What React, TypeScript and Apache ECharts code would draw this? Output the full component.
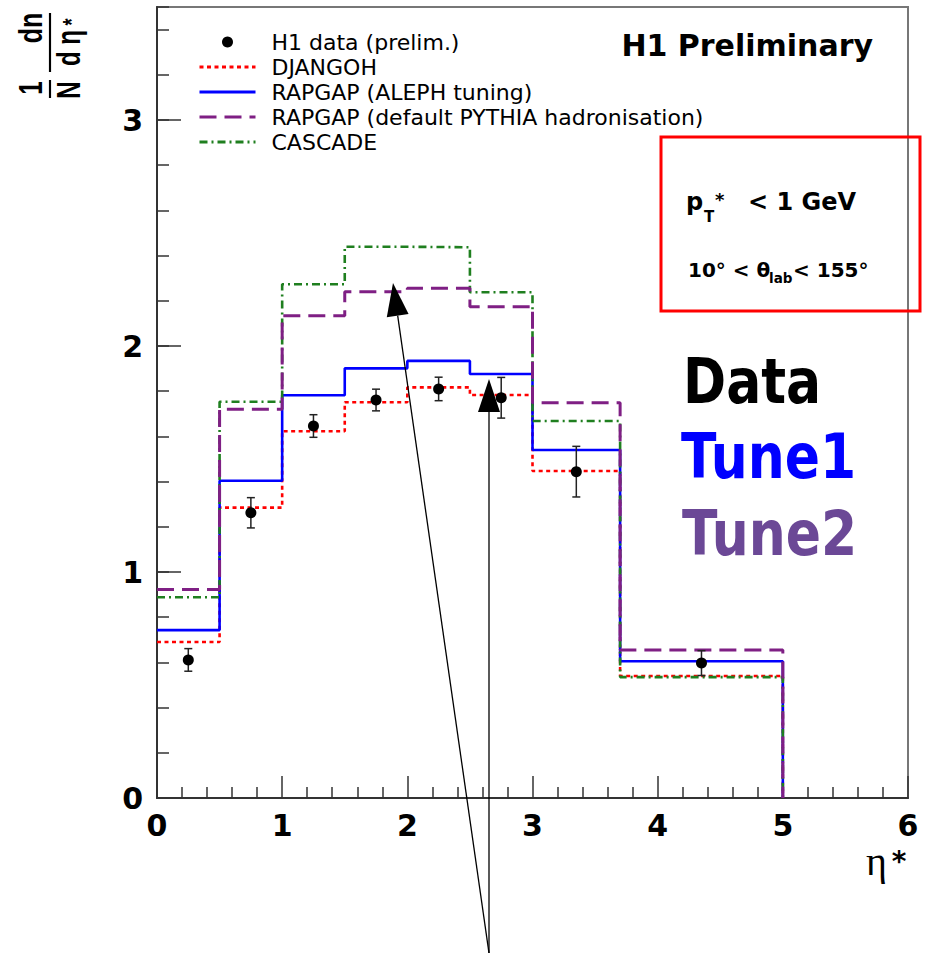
import React, { useEffect, useRef } from 'react';
import * as echarts from 'echarts';

// ---- data ----
const binEdges = [0, 0.5, 1, 1.5, 2, 2.5, 3, 3.7, 5];
const djangoh = [0.69, 1.285, 1.623, 1.751, 1.817, 1.783, 1.447, 0.54];
const rapgapAleph = [0.743, 1.404, 1.782, 1.901, 1.934, 1.876, 1.54, 0.605];
const rapgapDefault = [0.923, 1.72, 2.134, 2.24, 2.255, 2.174, 1.749, 0.655];
const cascade = [0.888, 1.753, 2.273, 2.439, 2.437, 2.238, 1.668, 0.535];
const dataX = [0.25, 0.75, 1.25, 1.75, 2.25, 2.75, 3.35, 4.35];
const dataY = [0.611, 1.262, 1.646, 1.761, 1.81, 1.771, 1.444, 0.597];
const dataErr = [0.05, 0.067, 0.05, 0.048, 0.052, 0.09, 0.112, 0.055];
const xTickLabels = [0, 1, 2, 3, 4, 5, 6];
const yTickLabels = [0, 1, 2, 3];

const seriesNames = [
  'H1 data (prelim.)',
  'DJANGOH',
  'RAPGAP (ALEPH tuning)',
  'RAPGAP (default PYTHIA hadronisation)',
  'CASCADE',
];

function stepPoints(vals: number[]) {
  const pts: number[][] = [];
  vals.forEach((v, i) => {
    pts.push([binEdges[i], v]);
    pts.push([binEdges[i + 1], v]);
  });
  pts.push([binEdges[binEdges.length - 1], 0]);
  return pts;
}

const SANS = '"DejaVu Sans", sans-serif';
const ARIAL = '"Liberation Sans", Arial, sans-serif';

function txt(
  text: string,
  x: number,
  y: number,
  size: number,
  opts: any = {}
) {
  const align = opts.align || 'left';
  return {
    type: 'text',
    x,
    y,
    z: 100,
    scaleX: opts.scaleX ?? 1,
    scaleY: opts.scaleY ?? 1,
    style: {
      text,
      fontSize: size,
      fontWeight: opts.weight || 'bold',
      fontFamily: opts.family || SANS,
      fill: opts.color || '#000',
      align,
      textAlign: align,
      verticalAlign: 'middle',
      textVerticalAlign: 'middle',
    },
  };
}

function arrow(x0: number, y0: number, tx: number, ty: number) {
  const dx = tx - x0;
  const dy = ty - y0;
  const len = Math.sqrt(dx * dx + dy * dy);
  const ux = dx / len;
  const uy = dy / len;
  const headLen = 33;
  const halfW = 11;
  const bx = tx - ux * headLen;
  const by = ty - uy * headLen;
  const px = -uy;
  const py = ux;
  return [
    {
      type: 'line',
      z: 100,
      shape: { x1: x0, y1: y0, x2: bx, y2: by },
      style: { stroke: '#000', lineWidth: 1.3 },
    },
    {
      type: 'polygon',
      z: 100,
      shape: {
        points: [
          [tx, ty],
          [bx + px * halfW, by + py * halfW],
          [bx - px * halfW, by - py * halfW],
        ],
      },
      style: { fill: '#000' },
    },
  ];
}

export default function App() {
  const ref = useRef<HTMLDivElement>(null);

  useEffect(() => {
    if (!ref.current) return;
    const chart = echarts.init(ref.current, undefined, { renderer: 'svg' });

    const axisColor = '#333';
    const histo = (
      name: string,
      vals: number[],
      color: string,
      type: any,
      width: number
    ) => ({
      name,
      type: 'line',
      data: stepPoints(vals),
      symbol: 'none',
      showSymbol: false,
      lineStyle: { color, type, width, cap: 'butt' },
      itemStyle: { color },
      z: 3,
    });

    const option: any = {
      animation: false,
      backgroundColor: '#fff',
      grid: {
        left: 157,
        right: 21,
        top: 7,
        bottom: 155,
        show: true,
        borderColor: '#777',
        borderWidth: 2,
        backgroundColor: 'transparent',
      },
      legend: {
        orient: 'vertical',
        left: 198,
        top: 31,
        padding: 0,
        itemWidth: 56,
        itemHeight: 11,
        itemGap: 3,
        selectedMode: false,
        lineStyle: { width: 3 },
        data: seriesNames.map((n, i) =>
          i === 0
            ? { name: n, icon: 'circle', itemStyle: { color: '#000', opacity: 1 } }
            : { name: n, itemStyle: { opacity: 0 } }
        ),
        textStyle: {
          fontFamily: SANS,
          fontSize: 22,
          lineHeight: 22,
          color: '#000',
          padding: [0, 0, 0, 11],
        },
      },
      xAxis: {
        type: 'value',
        min: 0,
        max: 6,
        interval: 1,
        axisLine: { show: true, onZero: false, lineStyle: { color: axisColor, width: 2 } },
        axisTick: { show: true, inside: true, length: 22, lineStyle: { color: axisColor, width: 1.5 } },
        minorTick: { show: true, splitNumber: 5, length: 11, lineStyle: { color: axisColor, width: 1.5 } },
        splitLine: { show: false },
        minorSplitLine: { show: false },
        axisLabel: {
          formatter: (v: number) => (xTickLabels.includes(v) ? String(v) : ''),
          fontSize: 30,
          fontWeight: 'bold',
          fontFamily: SANS,
          color: '#000',
          margin: 12,
        },
      },
      yAxis: [
        {
          type: 'value',
          min: 0,
          max: 3.5,
          interval: 0.2,
          axisLine: { show: true, onZero: false, lineStyle: { color: axisColor, width: 2 } },
          axisTick: { show: true, inside: true, length: 12, lineStyle: { color: axisColor, width: 1.5 } },
          axisLabel: { show: false },
          splitLine: { show: false },
        },
        {
          type: 'value',
          min: 0,
          max: 3.5,
          interval: 1,
          position: 'left',
          offset: 0,
          axisLine: { show: false },
          axisTick: { show: true, inside: true, length: 24, lineStyle: { color: axisColor, width: 1.5 } },
          splitLine: { show: false },
          axisLabel: {
            formatter: (v: number) => (yTickLabels.includes(v) ? String(v) : ''),
            showMaxLabel: false,
            fontSize: 30,
            fontWeight: 'bold',
            fontFamily: SANS,
            color: '#000',
            margin: 14,
          },
        },
      ],
      series: [
        histo(seriesNames[1], djangoh, '#ff0000', [4, 3.5], 2.6),
        histo(seriesNames[2], rapgapAleph, '#0000ff', 'solid', 2.6),
        histo(seriesNames[4], cascade, '#1f7f1f', [8, 4, 2, 4], 2.6),
        histo(seriesNames[3], rapgapDefault, '#7f1f84', [17, 8], 3),
        {
          name: 'errors',
          type: 'custom',
          z: 4,
          data: dataX.map((x, i) => [x, dataY[i], dataErr[i]]),
          renderItem: (params: any, api: any) => {
            const x = api.value(0);
            const y = api.value(1);
            const e = api.value(2);
            const top = api.coord([x, y + e]);
            const bot = api.coord([x, y - e]);
            const cw = 4;
            const st = { stroke: '#222', lineWidth: 1.5 };
            return {
              type: 'group',
              children: [
                { type: 'line', shape: { x1: top[0], y1: top[1], x2: bot[0], y2: bot[1] }, style: st },
                { type: 'line', shape: { x1: top[0] - cw, y1: top[1], x2: top[0] + cw, y2: top[1] }, style: st },
                { type: 'line', shape: { x1: bot[0] - cw, y1: bot[1], x2: bot[0] + cw, y2: bot[1] }, style: st },
              ],
            };
          },
        },
        {
          name: seriesNames[0],
          type: 'scatter',
          z: 5,
          symbol: 'circle',
          symbolSize: 11,
          itemStyle: { color: '#000', opacity: 1 },
          data: dataX.map((x, i) => [x, dataY[i]]),
        },
      ],
      graphic: [
        // H1 Preliminary
        txt('H1 Preliminary', 873, 45, 30, { align: 'right' }),
        // red selection box
        {
          type: 'rect',
          z: 100,
          shape: { x: 661, y: 137, width: 259, height: 174 },
          style: { fill: 'none', stroke: '#ff0000', lineWidth: 3 },
        },
        txt('p', 686, 202, 24),
        txt('T', 704, 217, 15),
        txt('*', 715, 199, 18),
        txt('< 1 GeV', 748, 202, 24),
        txt('10° < θ', 688, 270, 20),
        txt('lab', 769, 278, 13.5),
        txt('< 155°', 793, 270, 20),
        // big coloured labels
        txt('Data', 683, 382, 52, { scaleY: 1.2 }),
        txt('Tune1', 681, 457, 52, { color: '#0000ff', scaleY: 1.2 }),
        txt('Tune2', 682, 534, 52, { color: '#6b4896', scaleY: 1.2 }),
        // x axis title
        txt('η', 866, 861, 40, { weight: 'normal', family: '"Liberation Serif", "DejaVu Serif", serif' }),
        txt('*', 899, 861, 28, { align: 'center' }),
        // y axis title (rotated fraction)
        {
          type: 'group',
          x: 50,
          y: 98,
          rotation: Math.PI / 2,
          scaleY: 1.35,
          z: 100,
          children: [
            { type: 'text', x: 10, y: -14, style: { text: '1', fontSize: 24, fontWeight: 'bold', fontFamily: ARIAL, fill: '#000', align: 'center', verticalAlign: 'middle' } },
            { type: 'text', x: 8, y: 14, style: { text: 'N', fontSize: 24, fontWeight: 'bold', fontFamily: ARIAL, fill: '#000', align: 'center', verticalAlign: 'middle' } },
            { type: 'line', shape: { x1: 0, y1: 0, x2: 18, y2: 0 }, style: { stroke: '#000', lineWidth: 1.6 } },
            { type: 'text', x: 70, y: -15, style: { text: 'dn', fontSize: 25, fontWeight: 'bold', fontFamily: ARIAL, fill: '#000', align: 'center', verticalAlign: 'middle' } },
            { type: 'line', shape: { x1: 26, y1: 0, x2: 85, y2: 0 }, style: { stroke: '#000', lineWidth: 1.6 } },
            { type: 'text', x: 50, y: 14, style: { text: 'd η', fontSize: 24, fontWeight: 'bold', fontFamily: ARIAL, fill: '#000', align: 'center', verticalAlign: 'middle' } },
            { type: 'text', x: 76, y: 16, style: { text: '*', fontSize: 18, fontWeight: 'bold', fontFamily: ARIAL, fill: '#000', align: 'center', verticalAlign: 'middle' } },
          ],
        },
        // arrows
        ...arrow(489, 953, 393, 283),
        ...arrow(489, 953, 489, 379),
      ],
    };

    chart.setOption(option);
    return () => chart.dispose();
  }, []);

  return (
    <div
      ref={ref}
      style={{ position: 'fixed', left: 0, top: 0, width: 929, height: 953, background: '#fff' }}
    />
  );
}
